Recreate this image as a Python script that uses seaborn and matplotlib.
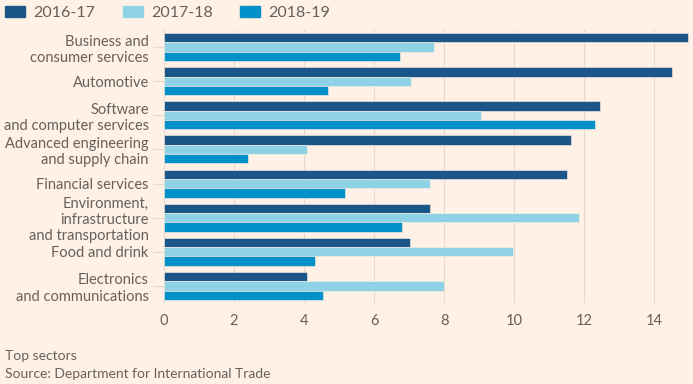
import pandas as pd
import numpy as np
import seaborn as sns
import matplotlib.pyplot as plt
from matplotlib.patches import Patch

sectors = ["Business and\nconsumer services", "Automotive",
           "Software\nand computer services", "Advanced engineering\nand supply chain",
           "Financial services", "Environment,\ninfrastructure\nand transportation",
           "Food and drink", "Electronics\nand communications"]
years = ["2016-17", "2017-18", "2018-19"]
v_2016_17 = [14.96, 14.51, 12.45, 11.63, 11.51, 7.61, 7.04, 4.08]
v_2017_18 = [7.72, 7.05, 9.05, 4.08, 7.60, 11.86, 9.97, 8.00]
v_2018_19 = [6.75, 4.68, 12.30, 2.39, 5.18, 6.81, 4.32, 4.55]
colors = ["#1a5687", "#8fd1e5", "#0091c9"]

df = pd.DataFrame({"sector": sectors * 3,
                   "year": np.repeat(years, len(sectors)),
                   "value": v_2016_17 + v_2017_18 + v_2018_19})

bg = "#fff1e5"
txt = "#66605c"
sns.set_style("white")
plt.rcParams['font.family'] = ['Lato', 'DejaVu Sans']

fig = plt.figure(figsize=(6.93, 3.84), dpi=100, facecolor=bg)
ax = fig.add_axes([164/693, 1 - 303/384, 529/693, 273/384])
ax.set_facecolor(bg)

sns.barplot(data=df, y="sector", x="value", hue="year", palette=colors,
            orient="h", width=0.82, ax=ax, legend=False, saturation=1,
            edgecolor=bg, linewidth=0.4)

ax.set_xlim(0, 15.11)
ax.set_xticks(range(0, 15, 2))
ax.grid(axis="x", color="#e6d9ce", linewidth=0.8)
ax.set_axisbelow(True)
for s in ax.spines.values():
    s.set_visible(False)
ax.set_xlabel("")
ax.set_ylabel("")
ax.tick_params(axis="x", length=0, labelsize=10.5, colors=txt, pad=8)
ax.tick_params(axis="y", length=8, color="#e6d9ce", labelsize=10.5,
               labelcolor=txt, pad=3, left=True)
for lab in ax.get_yticklabels():
    lab.set_linespacing(1.2)

handles = [Patch(color=c, label=y) for c, y in zip(colors, years)]
fig.legend(handles=handles, loc="center left", bbox_to_anchor=(5/693, 1 - 13/384),
           ncol=3, frameon=False, fontsize=11.5, labelcolor=txt,
           handlelength=1.25, handleheight=0.62, columnspacing=1.75,
           handletextpad=0.5, borderaxespad=0, borderpad=0)

fig.text(5/693, 1 - 356/384, "Top sectors", fontsize=10, color=txt, va="center")
fig.text(5/693, 1 - 374/384, "Source: Department for International Trade",
         fontsize=10, color=txt, va="center")

fig.savefig("out.png", dpi=100, facecolor=bg)
